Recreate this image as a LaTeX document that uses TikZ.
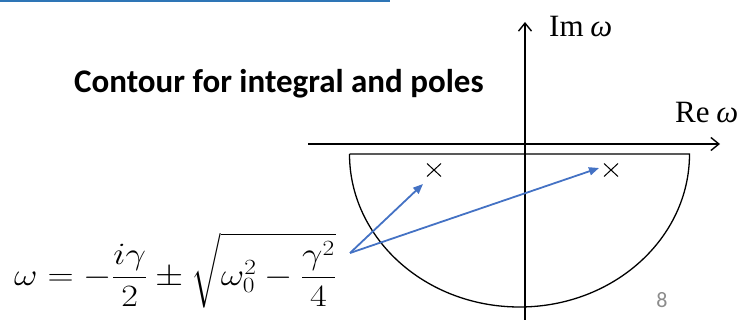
\RequirePackage{fix-cm}
\documentclass[tikz,border=0pt]{standalone}
\usepackage{fontspec}
\usepackage{amsmath}
\usepackage{graphicx}
\usetikzlibrary{arrows.meta,shapes.misc}
\newfontfamily\calib{Carlito}
\newfontfamily\tms{Liberation Serif}
\definecolor{arrowblue}{HTML}{4472C4}
\definecolor{barblue}{HTML}{2E75B6}
\definecolor{pagegray}{HTML}{8C8C8C}
\begin{document}
\begin{tikzpicture}[x=1pt,y=-1pt,
  axis/.style={line width=1.6pt,-{Straight Barb[length=8pt,width=13pt,line width=1.4pt]}},
  contour/.style={line width=1.3pt},
  pole/.style={cross out,draw,line width=1pt,minimum width=13pt,minimum height=12pt,inner sep=0pt},
  blue arrow/.style={arrowblue,line width=1.8pt,-{Triangle[length=10pt,width=8pt]}},
  axlabel/.style={inner sep=0pt,font=\fontsize{31}{35}\selectfont\tms}
]
\useasboundingbox (0,0) rectangle (751,320);
% top blue bar edge
\fill[barblue] (0,0) rectangle (390,2.5);
% title
\node[inner sep=0pt,anchor=base west] (title) at (74,93) {\calib\bfseries\fontsize{33}{38}\selectfont Contour for integral and poles};
% axes
\coordinate (xs) at (308,144);
\coordinate (xe) at (720,144);
\coordinate (ys) at (525,320);
\coordinate (ye) at (525,22);
\draw[axis] (xs) -- (xe);
\draw[axis] (ys) -- (ye);
\node[axlabel,anchor=base west] (im) at (549,37) {Im\hspace{0.22em}\textit{ω}};
\node[axlabel,anchor=base west] (re) at (675,123) {Re\hspace{0.22em}\textit{ω}};
% contour
\coordinate (cl) at (349.5,154);
\coordinate (cr) at (689.5,154);
\draw[contour] (cl) -- (cr) arc[start angle=0,end angle=180,x radius=170,y radius=153];
% poles
\node[pole] (p1) at (434,170) {};
\node[pole] (p2) at (611,170) {};
% formula
\node[inner sep=0pt,anchor=base west] (formula) at (14,285)
  {\scalebox{1.17}[1]{\fontsize{31}{38}\selectfont $\displaystyle \omega=-\frac{i\gamma}{2}\pm\sqrt{\omega_0^2-\frac{\gamma^2}{4}}$}};
% arrows
\coordinate (src) at (350,253);
\coordinate (t1) at (423,184);
\coordinate (t2) at (599,168);
\draw[blue arrow] (src) -- (t1);
\draw[blue arrow] (src) -- (t2);
% page number
\node[inner sep=0pt,text=pagegray,font=\calib\fontsize{22}{26}\selectfont] (page) at (662,300) {8};
\end{tikzpicture}
\end{document}
